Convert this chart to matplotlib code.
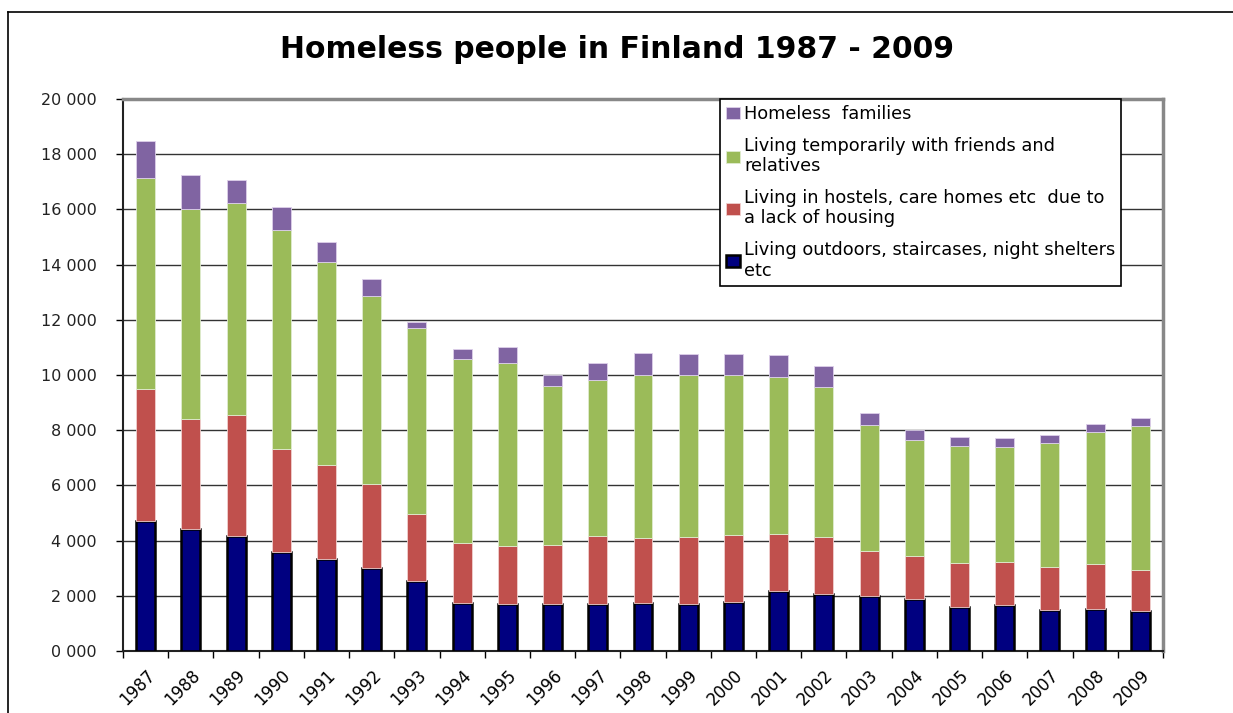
import matplotlib.pyplot as plt
import numpy as np
from matplotlib.lines import Line2D

years = [str(y) for y in range(1987, 2010)]

# persons per group
outdoors = [4700, 4420, 4170, 3590, 3330, 3000, 2540, 1740, 1700, 1720, 1720, 1740,
            1720, 1780, 2170, 2070, 1990, 1880, 1600, 1670, 1490, 1520, 1450]
hostels = [4800, 3990, 4380, 3730, 3410, 3050, 2420, 2170, 2100, 2120, 2450, 2360,
           2410, 2420, 2070, 2060, 1630, 1560, 1590, 1550, 1550, 1630, 1480]
friends = [7640, 7600, 7680, 7930, 7350, 6810, 6740, 6670, 6630, 5760, 5650, 5900,
           5870, 5800, 5690, 5440, 4570, 4200, 4240, 4170, 4500, 4780, 5220]
families = [1340, 1240, 840, 840, 730, 620, 220, 360, 570, 400, 610, 800,
            760, 760, 790, 760, 430, 360, 320, 330, 290, 290, 290]

labels = ['Living outdoors, staircases, night shelters\netc',
          'Living in hostels, care homes etc  due to\na lack of housing',
          'Living temporarily with friends and\nrelatives',
          'Homeless  families']

fig = plt.figure(figsize=(12.33, 7.13), dpi=100)
ax = fig.add_axes([123/1233, 1 - 651/713, (1163-123)/1233, (651-99)/713])

x = np.arange(len(years))
w = 0.42
b1 = ax.bar(x, outdoors, w, color='#000080', edgecolor='black', linewidth=1.8, zorder=3)
bottom = np.array(outdoors)
b2 = ax.bar(x, hostels, w, bottom=bottom, color='#C0504D', edgecolor='#f0d0d0', linewidth=0.6, zorder=3)
bottom = bottom + np.array(hostels)
b3 = ax.bar(x, friends, w, bottom=bottom, color='#9BBB59', edgecolor='#e0ecd0', linewidth=0.6, zorder=3)
bottom = bottom + np.array(friends)
b4 = ax.bar(x, families, w, bottom=bottom, color='#8064A2', edgecolor='#ddd0ea', linewidth=0.6, zorder=3)

ax.set_xlim(-0.5, len(years) - 0.5)
ax.set_ylim(0, 20000)
yt = np.arange(0, 20001, 2000)
ax.set_yticks(yt)
ax.set_yticklabels([f'{v // 1000} 000' for v in yt], fontsize=11.5, color='#222222')
ax.yaxis.grid(True, color='#333333', linewidth=1, zorder=0)

ax.set_xticks(x)
ax.set_xticklabels(years, rotation=45, ha='right', rotation_mode='anchor', fontsize=12)
ax.set_xticks(np.arange(-0.5, len(years)), minor=True)
ax.tick_params(axis='x', which='major', length=0, pad=11)
ax.tick_params(axis='x', which='minor', length=5, width=1, direction='out')
ax.tick_params(axis='y', length=5, width=1, direction='out', pad=14)

for s in ['left', 'bottom']:
    ax.spines[s].set_color('#222222')
    ax.spines[s].set_linewidth(1.5)
for s in ['top', 'right']:
    ax.spines[s].set_color('#888888')
    ax.spines[s].set_linewidth(2.5)

fig.suptitle('Homeless people in Finland 1987 - 2009', fontsize=21.5, fontweight='bold',
             y=1 - 49/713, va='center')

leg = ax.legend([b4, b3, b2, b1], labels[::-1], loc='upper left',
                bbox_to_anchor=((720-123)/1040, 1.0), fontsize=12.8,
                frameon=True, fancybox=False, edgecolor='black', framealpha=1,
                handlelength=0.75, handleheight=0.65, handletextpad=0.25,
                labelspacing=0.75, borderpad=0.35, borderaxespad=0)
leg.get_frame().set_linewidth(1.2)
leg.set_zorder(5)

# chart area border
fig.add_artist(Line2D([8/1233, 1], [1 - 12/713, 1 - 12/713], color='black', linewidth=1.2))
fig.add_artist(Line2D([8/1233, 8/1233], [0, 1 - 12/713], color='black', linewidth=1.2))

plt.savefig('out.png', dpi=100)
